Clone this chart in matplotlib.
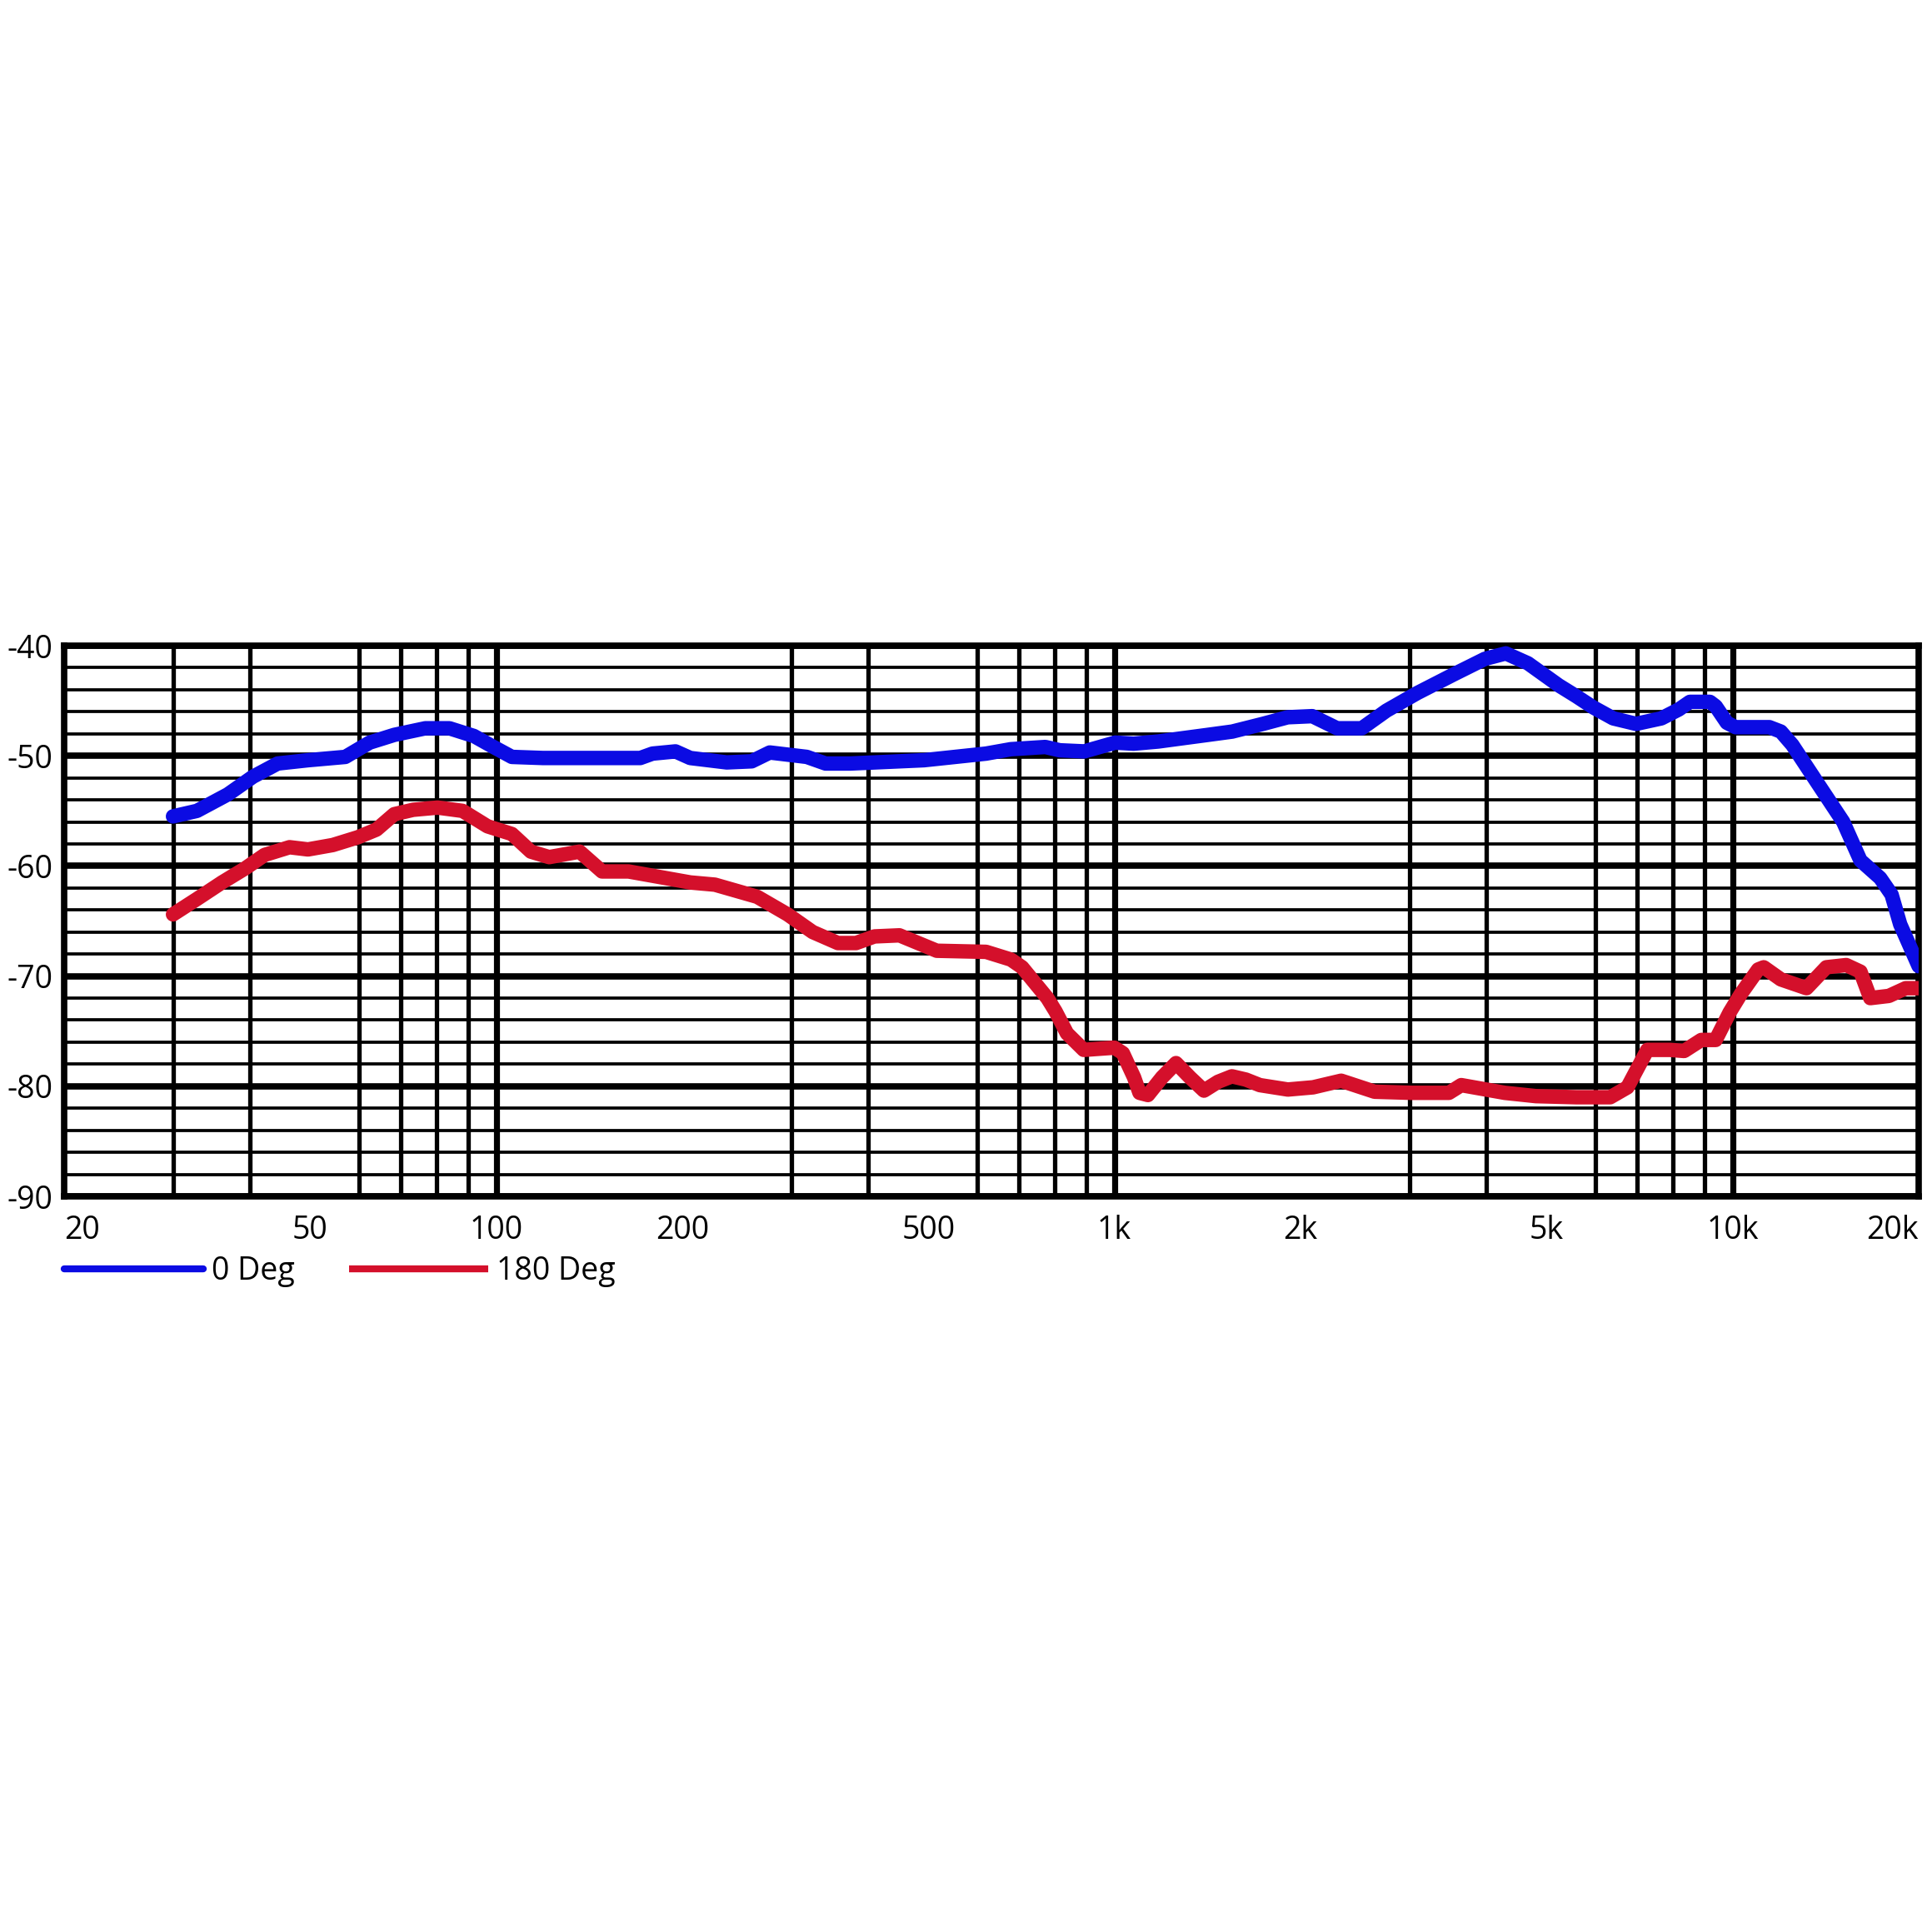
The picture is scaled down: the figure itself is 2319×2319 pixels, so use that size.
import matplotlib
matplotlib.use("Agg")
import matplotlib.pyplot as plt
from matplotlib.lines import Line2D
from matplotlib.ticker import FixedLocator, NullFormatter

plt.rcParams['font.family'] = ['Open Sans', 'DejaVu Sans']

# 0 degree response (Hz, dB)
freq_0 = [30, 32.8, 36.8, 40.4, 44.3, 49.6, 57, 62.4, 68.4, 76.8, 84, 92, 99, 106, 119,
          171, 179, 195, 206, 236, 259, 277, 318, 341, 374, 492, 620, 680, 773, 816,
          894, 1003, 1074, 1178, 1291, 1416, 1551, 1739, 1907, 2090, 2292, 2513, 2755,
          3090, 3541, 3974, 4297, 4666, 5232, 5590, 5950, 6410, 6980, 7670, 8180, 8530,
          9190, 9390, 9790, 10110, 11470, 11970, 12490, 13730, 15100, 16100, 17330,
          18080, 18670, 20000]
db_0 = [-55.5, -55.0, -53.5, -51.9, -50.7, -50.4, -50.1, -48.8, -48.1, -47.5, -47.5, -48.2,
        -49.2, -50.1, -50.2, -50.2, -49.8, -49.6, -50.2, -50.6, -50.5, -49.7, -50.1, -50.7,
        -50.7, -50.4, -49.8, -49.4, -49.2, -49.5, -49.6, -48.8, -48.9, -48.7, -48.4, -48.1,
        -47.8, -47.1, -46.5, -46.4, -47.5, -47.5, -45.9, -44.3, -42.6, -41.2, -40.7, -41.6,
        -43.6, -44.6, -45.6, -46.6, -47.1, -46.6, -45.8, -45.1, -45.1, -45.5, -47.0, -47.4,
        -47.4, -47.8, -49.0, -52.5, -56.0, -59.5, -61.1, -62.6, -65.3, -69.1]

# 180 degree response (Hz, dB)
freq_180 = [30, 32.8, 36, 39.3, 42.2, 46.3, 49.6, 54.4, 59.7, 64, 68.4, 73.4, 80.4, 88.2,
            96.8, 106, 113.8, 121.8, 136.4, 148.3, 163.7, 206, 225.8, 264.3, 296, 325, 357,
            382, 409, 449, 516, 620, 680, 709, 779, 803, 838, 892, 1000, 1032, 1076, 1098,
            1133, 1194, 1258, 1325, 1396, 1471, 1549, 1632, 1719, 1908, 2096, 2327, 2636,
            3027, 3477, 3640, 3901, 4279, 4807, 5590, 6340, 6760, 7280, 7920, 8350, 8900,
            9390, 9890, 10320, 11000, 11230, 11970, 13170, 14180, 15270, 16100, 16700,
            17900, 19060, 20000]
db_180 = [-64.4, -63.0, -61.5, -60.2, -59.0, -58.3, -58.5, -58.1, -57.4, -56.7, -55.3, -54.9,
          -54.7, -55.0, -56.4, -57.1, -58.7, -59.2, -58.7, -60.5, -60.5, -61.5, -61.7, -62.8,
          -64.4, -66.0, -67.0, -67.0, -66.4, -66.3, -67.7, -67.8, -68.5, -69.2, -72.0, -73.2,
          -75.2, -76.7, -76.5, -77.0, -79.2, -80.6, -80.8, -79.2, -77.9, -79.2, -80.4, -79.6,
          -79.1, -79.4, -79.9, -80.3, -80.1, -79.5, -80.5, -80.6, -80.6, -79.9, -80.2, -80.6,
          -80.9, -81.0, -81.0, -80.1, -76.7, -76.7, -76.8, -75.8, -75.8, -73.3, -71.6, -69.4,
          -69.2, -70.3, -71.1, -69.2, -69.0, -69.6, -72.0, -71.8, -71.1, -71.1]

x_ticks = [20, 50, 100, 200, 500, 1000, 2000, 5000, 10000, 20000]
x_labels = ['20', '50', '100', '200', '500', '1k', '2k', '5k', '10k', '20k']
x_grid = [30, 40, 50, 60, 70, 80, 90,
          100, 200, 300, 400, 500, 600, 700, 800, 900,
          1000, 2000, 3000, 4000, 5000, 6000, 7000, 8000, 9000, 10000]
decades = [100, 1000, 10000]
y_ticks = [-40, -50, -60, -70, -80, -90]
y_minor = list(range(-88, -40, 2))

blue = '#0B0BE3'
red = '#D4102B'

W = 2319
fig = plt.figure(figsize=(W / 100, W / 100), dpi=100)
ax = fig.add_axes([77 / W, 1 - 1436 / W, 2226 / W, 661 / W])

ax.set_xscale('log')
ax.set_xlim(20, 20000)
ax.set_ylim(-90, -40)

ax.xaxis.set_major_locator(FixedLocator(x_ticks))
ax.set_xticklabels(x_labels)
ax.xaxis.set_minor_locator(FixedLocator(x_grid))
ax.xaxis.set_minor_formatter(NullFormatter())
ax.set_yticks(y_ticks)
ax.set_yticklabels([str(v) for v in y_ticks])
ax.yaxis.set_minor_locator(FixedLocator(y_minor))

ax.tick_params(which='both', length=0)
ax.tick_params(axis='x', labelsize=27, pad=16)
ax.tick_params(axis='y', labelsize=27, pad=10)
labels = ax.get_xticklabels()
labels[0].set_ha('left')
labels[-1].set_ha('right')

ax.set_axisbelow(True)
ax.grid(False, which='major', axis='x')
ax.grid(True, which='minor', axis='x', color='black', lw=3.8)
ax.grid(True, which='major', axis='y', color='black', lw=5.5)
ax.grid(True, which='minor', axis='y', color='black', lw=2.7)
for d in decades:
    ax.axvline(d, color='black', lw=5.2, zorder=0.5)

for s in ax.spines.values():
    s.set_linewidth(5.5)
    s.set_color('black')

ax.plot(freq_0, db_0, color=blue, lw=12.5, solid_capstyle='round', solid_joinstyle='round', zorder=3)
ax.plot(freq_180, db_180, color=red, lw=12.5, solid_capstyle='round', solid_joinstyle='round', zorder=3)

handles = [Line2D([], [], color=blue, lw=6, solid_capstyle='round'),
           Line2D([], [], color=red, lw=6, solid_capstyle='butt')]
fig.legend(handles, ['0 Deg', '180 Deg'], loc='center left',
           bbox_to_anchor=(77 / W, 1 - 1526 / W), ncol=2, frameon=False,
           fontsize=27, handlelength=4.45, handletextpad=0.27, columnspacing=1.73,
           borderpad=0, borderaxespad=0)

fig.savefig('out.png', dpi=100, facecolor='white')
